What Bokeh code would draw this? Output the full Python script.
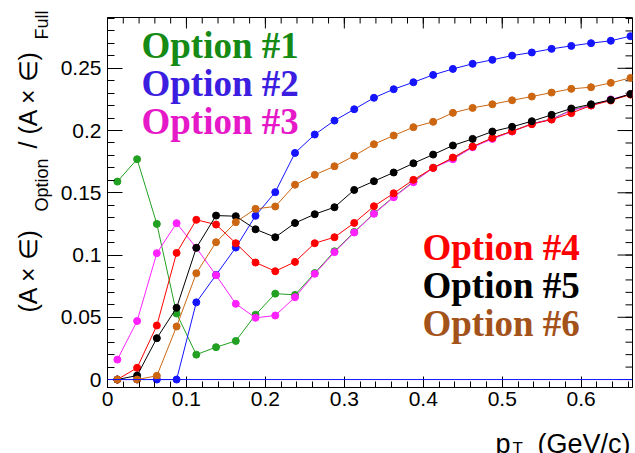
import numpy as np
from math import pi
from bokeh.plotting import figure
from bokeh.layouts import row, column
from bokeh.models import Range1d, FixedTicker, Label, Span
from bokeh.core.properties import value
from bokeh.embed import file_html
from bokeh.resources import INLINE

# bin centres in pT (GeV/c)
pt = [0.0125, 0.0375, 0.0625, 0.0875, 0.1125, 0.1375, 0.1625, 0.1875, 0.2125,
      0.2375, 0.2625, 0.2875, 0.3125, 0.3375, 0.3625, 0.3875, 0.4125, 0.4375,
      0.4625, 0.4875, 0.5125, 0.5375, 0.5625, 0.5875, 0.6125, 0.6375, 0.6625]

# acceptance x efficiency ratio for each selection option
option1 = [0.159, 0.177, 0.125, 0.053, 0.020, 0.026, 0.031, 0.052, 0.069, 0.068,
           0.0855, 0.1030, 0.1185, 0.1335, 0.1468, 0.1590, 0.1702, 0.1775, 0.1870,
           0.1938, 0.1995, 0.2055, 0.2092, 0.2165, 0.2203, 0.2246, 0.2290]
option2 = [0.0, 0.0, 0.0, 0.0, 0.062, 0.084, 0.106, 0.1315, 0.1505, 0.182,
           0.1968, 0.2080, 0.2171, 0.2263, 0.2332, 0.2388, 0.2447, 0.2495, 0.2536,
           0.2568, 0.2602, 0.2627, 0.2656, 0.2680, 0.2702, 0.2721, 0.2758]
option3 = [0.016, 0.047, 0.1015, 0.1256, 0.1058, 0.0838, 0.0608, 0.0496, 0.0514, 0.0661,
           0.0849, 0.1023, 0.1181, 0.1331, 0.1464, 0.1585, 0.1700, 0.1769, 0.1866,
           0.1933, 0.1992, 0.2054, 0.2091, 0.2160, 0.2201, 0.2250, 0.2292]
option4 = [0.0, 0.0094, 0.0434, 0.1017, 0.1283, 0.1245, 0.1095, 0.094, 0.087, 0.0945,
           0.1095, 0.1143, 0.1258, 0.1392, 0.1496, 0.1604, 0.1700, 0.1783, 0.1871,
           0.1941, 0.1994, 0.2051, 0.2088, 0.2140, 0.2201, 0.2241, 0.2289]
option5 = [0.0, 0.0032, 0.0332, 0.0576, 0.1058, 0.1317, 0.1312, 0.1207, 0.1143, 0.1257,
           0.1328, 0.1384, 0.1523, 0.1593, 0.1663, 0.1737, 0.1807, 0.1880, 0.1933,
           0.1992, 0.2030, 0.2075, 0.2126, 0.2177, 0.2211, 0.2246, 0.2294]
option6 = [0.0, 0.0, 0.003, 0.0426, 0.0854, 0.1103, 0.1264, 0.1371, 0.139, 0.1565,
           0.1644, 0.1713, 0.1797, 0.1890, 0.1960, 0.2027, 0.2070, 0.2142, 0.2182,
           0.2211, 0.2243, 0.2273, 0.2305, 0.2335, 0.2348, 0.2383, 0.2423]

series_names = ["Option #1", "Option #2", "Option #3", "Option #4", "Option #5", "Option #6"]
series_values = [option1, option2, option3, option4, option5, option6]

x_ticks = [0, 0.1, 0.2, 0.3, 0.4, 0.5, 0.6]
x_tick_labels = ["0", "0.1", "0.2", "0.3", "0.4", "0.5", "0.6"]
y_ticks = [0, 0.05, 0.1, 0.15, 0.2, 0.25]
y_tick_labels = ["0", "0.05", "0.1", "0.15", "0.2", "0.25"]

line_colors = ["#22a022", "#1414ff", "#ff22ff", "#ff0000", "#000000", "#cc6611"]
text_colors = ["#158a15", "#3c1ee0", "#e619c8", "#ff0000", "#000000", "#a3521a"]

X_MIN, X_MAX = 0.0, 0.665
Y_MIN, Y_MAX = -0.0064, 0.2908

W, H = 635, 453          # whole page
YT_W = 55                # strip holding the vertical axis title
XT_H = 37                # strip holding the horizontal axis title
FL, FR, FB = 107, 632, 387   # frame left / right / bottom on the page
MAIN_W, MAIN_H = W - YT_W, H - XT_H

p = figure(width=MAIN_W, height=MAIN_H, output_backend="svg", toolbar_location=None,
           x_range=Range1d(X_MIN, X_MAX), y_range=Range1d(Y_MIN, Y_MAX),
           min_border_left=FL - YT_W, min_border_right=W - FR, min_border_top=17,
           min_border_bottom=MAIN_H - FB)
p.background_fill_color = "white"
p.border_fill_color = "white"
p.grid.visible = False
p.outline_line_color = "black"
p.outline_line_width = 1

x_minor = [float(v) for v in np.round(np.arange(0, X_MAX + 1e-9, 0.02), 3)]
y_minor = [float(v) for v in np.round(np.arange(0, Y_MAX, 0.01), 3)]


def style_axis(ax, ticks, minor, labels, tick_len, minor_len):
    ax.ticker = FixedTicker(ticks=ticks, minor_ticks=minor)
    ax.major_label_overrides = dict(zip(ticks, labels))
    ax.major_tick_in = tick_len
    ax.major_tick_out = 0
    ax.minor_tick_in = minor_len
    ax.minor_tick_out = 0
    ax.major_tick_line_color = "black"
    ax.minor_tick_line_color = "black"
    ax.axis_line_color = "black"
    ax.major_label_text_font = "Liberation Sans"
    ax.major_label_text_font_size = "21px"
    ax.major_label_text_color = "black"
    ax.axis_label = None


style_axis(p.xaxis[0], x_ticks, x_minor, x_tick_labels, 11, 6)
p.xaxis[0].major_label_standoff = 4
style_axis(p.yaxis[0], y_ticks, y_minor, y_tick_labels, 15, 7)
p.yaxis[0].major_label_standoff = 6

# tick marks mirrored on the top and right edges of the frame
p.ray(x=x_ticks, y=[Y_MAX] * len(x_ticks), length=11, angle=-pi / 2,
      length_units="screen", line_color="black", line_width=1)
p.ray(x=x_minor, y=[Y_MAX] * len(x_minor), length=6, angle=-pi / 2,
      length_units="screen", line_color="black", line_width=1)
p.ray(x=[X_MAX] * len(y_ticks), y=y_ticks, length=15, angle=pi,
      length_units="screen", line_color="black", line_width=1)
p.ray(x=[X_MAX] * len(y_minor), y=y_minor, length=7, angle=pi,
      length_units="screen", line_color="black", line_width=1)

# zero reference line
p.add_layout(Span(location=0, dimension="width", line_color="#1414ff", line_width=1))

for vals, col in zip(series_values, line_colors):
    p.line(pt, vals, line_color=col, line_width=1)
    p.scatter(pt, vals, size=7, fill_color=col, line_color=col)

# option names, coloured like their curves (positions are text centres on the page)
legend_pos = [(141, 45), (141, 83), (141, 121), (422, 247), (422, 285), (422, 323)]
for name, col, (cx, cy) in zip(series_names, text_colors, legend_pos):
    p.add_layout(Label(x=cx - FL, y=FB - cy, x_units="screen", y_units="screen",
                       text=name, text_color=col, text_font="Liberation Serif",
                       text_font_style="bold", text_font_size="37px",
                       text_align="left", text_baseline="middle"))


def title_strip(w, h, x0, x1, border_left=0, border_right=0):
    # page-pixel coordinates inside the strip's frame
    f = figure(width=w, height=h, output_backend="svg", toolbar_location=None,
               x_range=Range1d(x0, x1), y_range=Range1d(0, h),
               x_axis_type=None, y_axis_type=None, min_border=0,
               min_border_left=border_left, min_border_right=border_right)
    f.grid.visible = False
    f.outline_line_color = None
    f.background_fill_color = "white"
    f.border_fill_color = "white"
    return f


def put(f, x, y, txt, size, align="left", angle=0.0):
    # x, y in page pixels from the top-left corner
    f.text(x=[x], y=[H - y], text=[txt], text_font=value("Liberation Sans"),
           text_font_size=size, text_color="black", text_align=align,
           text_baseline="alphabetic", angle=angle)


# vertical title: (A x e)_Option / (A x e)_Full, reading upwards
yt = title_strip(YT_W, H, 0, YT_W)
put(yt, 27, 312, "(A \u00d7 \u2208)", "25px", angle=pi / 2)
put(yt, 41, 211, "Option", "18px", angle=pi / 2)
put(yt, 27, 148, "/ (A \u00d7 \u2208)", "25px", angle=pi / 2)
put(yt, 41, 39, "Full", "18px", angle=pi / 2)

# horizontal title: p_T (GeV/c); its frame lines up with the main frame
xt = title_strip(MAIN_W, XT_H, FL, FR, border_left=FL - YT_W, border_right=W - FR)
put(xt, 495, 443, "p", "27px")
put(xt, 512, 448, "T", "17px")
put(xt, 630, 443, "(GeV/c)", "27px", align="right")

page = row(yt, column(p, xt, spacing=0), spacing=0)
open("out.html", "w").write(file_html(page, INLINE))
